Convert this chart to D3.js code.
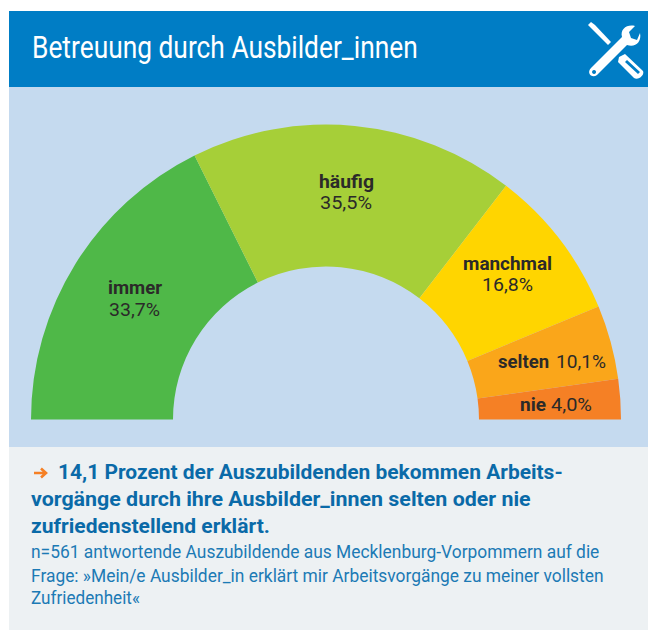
<!DOCTYPE html>
<html><head><meta charset="utf-8">
<script src="https://cdn.jsdelivr.net/npm/d3@7"></script>
<style>html,body{margin:0;padding:0;background:#fff}svg{display:block}text{font-family:Roboto,"Open Sans",sans-serif}</style>
</head><body><svg id="c" width="648" height="630"></svg>
<script>
const categories=["immer","häufig","manchmal","selten","nie"];
const valueLabels=["33,7%","35,5%","16,8%","10,1%","4,0%"];
// arc widths as drawn in the picture (share of the half circle)
const drawnShares=[35.3,35.6,16.6,8.1,4.4];
const colors=["#4fb848","#a6cf38","#ffd500","#faa61a","#f58025"];
const title="Betreuung durch Ausbilder_innen";
const headline=["14,1 Prozent der Auszubildenden bekommen Arbeits-","vorgänge durch ihre Ausbilder_innen selten oder nie","zufriedenstellend erklärt."];
const note=["n=561 antwortende Auszubildende aus Mecklenburg-Vorpommern auf die","Frage: »Mein/e Ausbilder_in erklärt mir Arbeitsvorgänge zu meiner vollsten","Zufriedenheit«"];

const svg=d3.select("#c");
const cx=326,cy=419.5,R=295,r=153;
svg.append("rect").attr("x",9).attr("y",11).attr("width",639).attr("height",76).attr("fill","#007dc5");
svg.append("rect").attr("x",9).attr("y",87).attr("width",639).attr("height",360).attr("fill","#c5daef");
svg.append("rect").attr("x",9).attr("y",447).attr("width",639).attr("height",183).attr("fill","#edf1f3");

// place a text at (x,y) and scale it horizontally to the width seen in the picture
function put(x,y,t,len,size,weight,fill){
  const n=svg.append("text").attr("font-size",size).attr("font-weight",weight).attr("fill",fill).text(t);
  const k=len/n.node().getComputedTextLength();
  n.attr("transform",`translate(${x},${y}) scale(${k},1)`);
  return n;
}
put(32,58,title,386,31,400,"#fff");

const pie=d3.pie().value(d=>d).sort(null).startAngle(-Math.PI/2).endAngle(Math.PI/2);
const arc=d3.arc().innerRadius(r).outerRadius(R);
const arcs=pie(drawnShares);
const g=svg.append("g").attr("transform",`translate(${cx},${cy})`);
g.selectAll("path").data(arcs).join("path").attr("d",arc).attr("fill",(d,i)=>colors[i]);

const ink="#2b2a29",ls=17.8;
put(108,294,categories[0],54,ls,700,ink);
put(109,316,valueLabels[0],51,ls,400,ink);
put(319,188,categories[1],55,ls,700,ink);
put(320,209,valueLabels[1],52,ls,400,ink);
put(463,270,categories[2],89,ls,700,ink);
put(482,291,valueLabels[2],51,ls,400,ink);
put(498,368,categories[3],51,ls,700,ink);
put(556,368,valueLabels[3],50,ls,400,ink);
put(520,411,categories[4],26,ls,700,ink);
put(551,411,valueLabels[4],41,ls,400,ink);

svg.append("path").attr("d","M34 473H45M41 468.5L46 473L41 477.5").attr("fill","none").attr("stroke","#f58025").attr("stroke-width",2.6);
const hl="#0a6aa8",nc="#1c7ab5";
[[58,479,505],[31,506,500],[31,533,239]].forEach((p,i)=>put(p[0],p[1],headline[i],p[2],21,700,hl));
[[31,558,569],[31,582,573],[31,604,109]].forEach((p,i)=>put(p[0],p[1],note[i],p[2],18.5,400,nc));

// tools icon
const ic=svg.append("g").attr("fill","#fff").attr("stroke","none");
ic.append("path").attr("d","M588 25L591 22L595 25L611 42L608 45L592 29Z");
ic.append("path").attr("fill-rule","evenodd").attr("d","M591 68L622 37C620 29 627 24 635 26L629 32L631 38L637 40L640 33C642 42 635 48 627 45L597 75C592 79 586 73 591 68ZM594 70a2 2 0 1 0 .1 0Z");
ic.append("path").attr("fill-rule","evenodd").attr("d","M619 57L625 54L643 71C645 75 638 81 634 78L618 62ZM627 60L625 62L638 74L640 72Z");
</script></body></html>
